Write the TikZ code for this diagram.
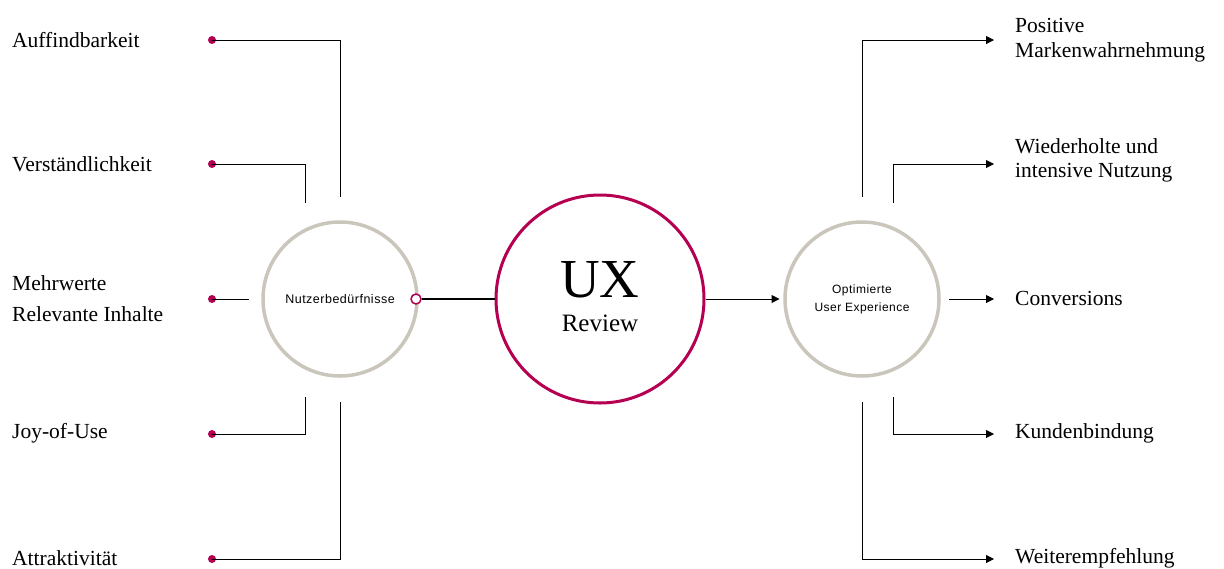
\documentclass[tikz,border=0pt]{standalone}
\usepackage{fontspec}
\setmainfont{Liberation Serif}
\newfontfamily\uisans[LetterSpace=4]{Liberation Sans}
\usetikzlibrary{arrows.meta}
\definecolor{crim}{RGB}{181,0,82}
\definecolor{stone}{RGB}{202,198,188}
\tikzset{
  lbl/.style={font=\fontsize{21.5}{27}\selectfont, inner sep=0pt, align=left},
  pdot/.style={circle, fill=crim, inner sep=0pt, minimum size=8pt},
  conn/.style={line width=1pt, black},
  arr/.style={conn, -{Triangle[length=8pt,width=8pt]}},
  ring/.style={circle, draw=stone, line width=3.5pt, minimum size=154pt, inner sep=0pt, align=center},
}
\begin{document}
\begin{tikzpicture}[x=1pt,y=-1pt]
\useasboundingbox (0,0) rectangle (1224,568);
% circles
\node[ring, font=\uisans\fontsize{12.5}{17}\selectfont] (need) at (340,299) {Nutzerbed\"urfnisse};
\node[circle, draw=crim, line width=3pt, minimum size=208pt, inner sep=0pt, align=center] (ux) at (600,299) {};
\node[inner sep=0pt, align=center, font=\fontsize{25}{28}\selectfont] (uxt) at (600,297) {{\fontsize{55}{55}\selectfont UX}\\[6pt]Review};
\node[ring, font=\uisans\fontsize{12}{18}\selectfont] (opt) at (862,299) {Optimierte\\User Experience};
% left labels
\node[lbl, anchor=west] (l1) at (12,40) {Auffindbarkeit};
\node[lbl, anchor=west] (l2) at (12,164) {Verst\"andlichkeit};
\node[lbl, anchor=west] (l3a) at (12,283) {Mehrwerte};
\node[lbl, anchor=west] (l3b) at (12,314) {Relevante Inhalte};
\node[lbl, anchor=west] (l4) at (12,433) {Joy-of-Use};
\node[lbl, anchor=west] (l5) at (12,558) {Attraktivit\"at};
% dots
\node[pdot] (d1) at (212,40) {};
\node[pdot] (d2) at (212,164) {};
\node[pdot] (d3) at (212,299) {};
\node[pdot] (d4) at (212,434) {};
\node[pdot] (d5) at (212,559) {};
% left line ends
\coordinate (e1) at (340,197);
\coordinate (e2) at (305,203);
\coordinate (e3) at (249,299);
\coordinate (e4) at (305,397);
\coordinate (e5) at (340,402);
\draw[conn] (d1.center) -| (e1);
\draw[conn] (d2.center) -| (e2);
\draw[conn] (d3.center) -- (e3);
\draw[conn] (d4.center) -| (e4);
\draw[conn] (d5.center) -| (e5);
% connector to UX
\node[circle, draw=crim, fill=white, line width=1.5pt, inner sep=0pt, minimum size=10pt] (port) at (416,299) {};
\draw[line width=2pt, black] (port.east) -- (ux.west);
\draw[arr] (ux.east) -- ++(74,0) coordinate (a0);
% right labels
\node[lbl, anchor=west] (r1a) at (1015,25) {Positive};
\node[lbl, anchor=west] (r1b) at (1015,52) {Markenwahrnehmung};
\node[lbl, anchor=west] (r2a) at (1015,146) {Wiederholte und};
\node[lbl, anchor=west] (r2b) at (1015,173) {intensive Nutzung};
\node[lbl, anchor=west] (r3) at (1015,298) {Conversions};
\node[lbl, anchor=west] (r4) at (1015,433) {Kundenbindung};
\node[lbl, anchor=west] (r5) at (1015,558) {Weiterempfehlung};
% right line starts and tips
\coordinate (s1) at (862,197);
\coordinate (s2) at (893,203);
\coordinate (s3) at (949,299);
\coordinate (s4) at (893,397);
\coordinate (s5) at (862,402);
\coordinate (t1) at (994,40);
\coordinate (t2) at (994,164);
\coordinate (t3) at (994,299);
\coordinate (t4) at (994,434);
\coordinate (t5) at (994,559);
\draw[arr] (s1) |- (t1);
\draw[arr] (s2) |- (t2);
\draw[arr] (s3) -- (t3);
\draw[arr] (s4) |- (t4);
\draw[arr] (s5) |- (t5);
\end{tikzpicture}
\end{document}
